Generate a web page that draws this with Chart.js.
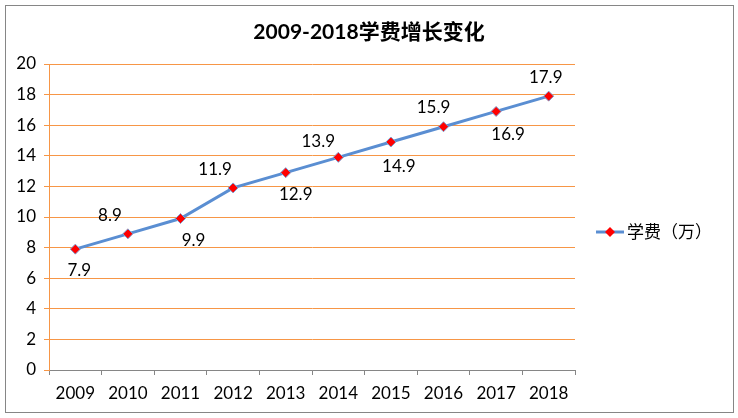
<!DOCTYPE html>
<html><head><meta charset="utf-8">
<script src="https://cdn.jsdelivr.net/npm/chart.js@4"></script>
<style>html,body{margin:0;padding:0;background:#fff}#wrap{width:738px;height:418px;position:relative}</style>
</head><body><div id="wrap"><canvas id="c" width="738" height="418"></canvas></div>
<script>
const titleText = '2009-2018学费增长变化';
const seriesName = '学费（万）';
const years = ['2009','2010','2011','2012','2013','2014','2015','2016','2017','2018'];
const fees = [7.9, 8.9, 9.9, 11.9, 12.9, 13.9, 14.9, 15.9, 16.9, 17.9];
const yMin = 0, yMax = 20, yStep = 2;

// label placement style (not data)
const labelDx = [4, -18, 13, -18, 10, -20, 8, -10, 12, -3];
const labelDy = [21, -18, 22, -18, 22, -16, 24, -19, 23, -19];

const ORANGE = '#F79646';
const GRAY = '#868686';
const BLUE = '#5A8ED2';
const FONT = "Lato, 'Noto Sans CJK SC', sans-serif";

const decor = {
  id: 'decor',
  afterDraw(chart) {
    const ctx = chart.ctx;
    ctx.save();
    ctx.strokeStyle = GRAY; ctx.lineWidth = 1;
    ctx.strokeRect(5.5, 5.5, 728, 407);
    ctx.fillStyle = '#000';
    ctx.font = "bold 21px " + FONT;
    ctx.textAlign = 'center'; ctx.textBaseline = 'middle';
    ctx.fillText(titleText, 369, 32);
    const meta = chart.getDatasetMeta(0);
    ctx.font = "17px " + FONT;
    meta.data.forEach((pt, i) => {
      ctx.fillText(String(fees[i]), pt.x + labelDx[i], pt.y + labelDy[i]);
    });
    const ly = 232;
    ctx.strokeStyle = BLUE; ctx.lineWidth = 3;
    ctx.beginPath(); ctx.moveTo(596, ly); ctx.lineTo(624, ly); ctx.stroke();
    ctx.fillStyle = '#FF0000';
    ctx.beginPath(); ctx.moveTo(610, ly-5); ctx.lineTo(615, ly); ctx.lineTo(610, ly+5); ctx.lineTo(605, ly); ctx.closePath(); ctx.fill();
    ctx.fillStyle = '#000';
    ctx.font = "17px 'Noto Sans CJK SC', sans-serif";
    ctx.textAlign = 'left';
    ctx.fillText(seriesName, 627, ly);
    ctx.restore();
  }
};

new Chart(document.getElementById('c'), {
  type: 'line',
  data: {
    labels: years,
    datasets: [{
      label: seriesName,
      data: fees,
      borderColor: BLUE,
      borderWidth: 3,
      tension: 0,
      pointStyle: 'rectRot',
      pointRadius: 5,
      pointBackgroundColor: '#FF0000',
      pointBorderColor: '#7f9fd0',
      pointBorderWidth: 1,
      fill: false
    }]
  },
  options: {
    responsive: false,
    animation: false,
    devicePixelRatio: 1,
    layout: { padding: { top: 64, right: 163, bottom: 0, left: 0 } },
    plugins: { legend: { display: false }, title: { display: false }, tooltip: { enabled: false } },
    scales: {
      x: {
        offset: true,
        grid: { offset: true, drawOnChartArea: false, drawTicks: true, tickLength: 5, tickColor: GRAY, color: GRAY },
        border: { color: GRAY, width: 1 },
        ticks: { color: '#000', font: { family: FONT, size: 17 }, padding: 8, maxRotation: 0 },
        afterFit(s) { s.height = 48; }
      },
      y: {
        min: yMin, max: yMax,
        ticks: { stepSize: yStep, color: '#000', font: { family: FONT, size: 17 }, padding: 8 },
        grid: { color: (c) => (c.tick && c.tick.value === 0) ? GRAY : ORANGE, tickColor: ORANGE, tickLength: 5, lineWidth: 1 },
        border: { color: ORANGE, width: 1 },
        afterFit(s) { s.width = 49; }
      }
    }
  },
  plugins: [decor]
});
</script>
</body></html>
